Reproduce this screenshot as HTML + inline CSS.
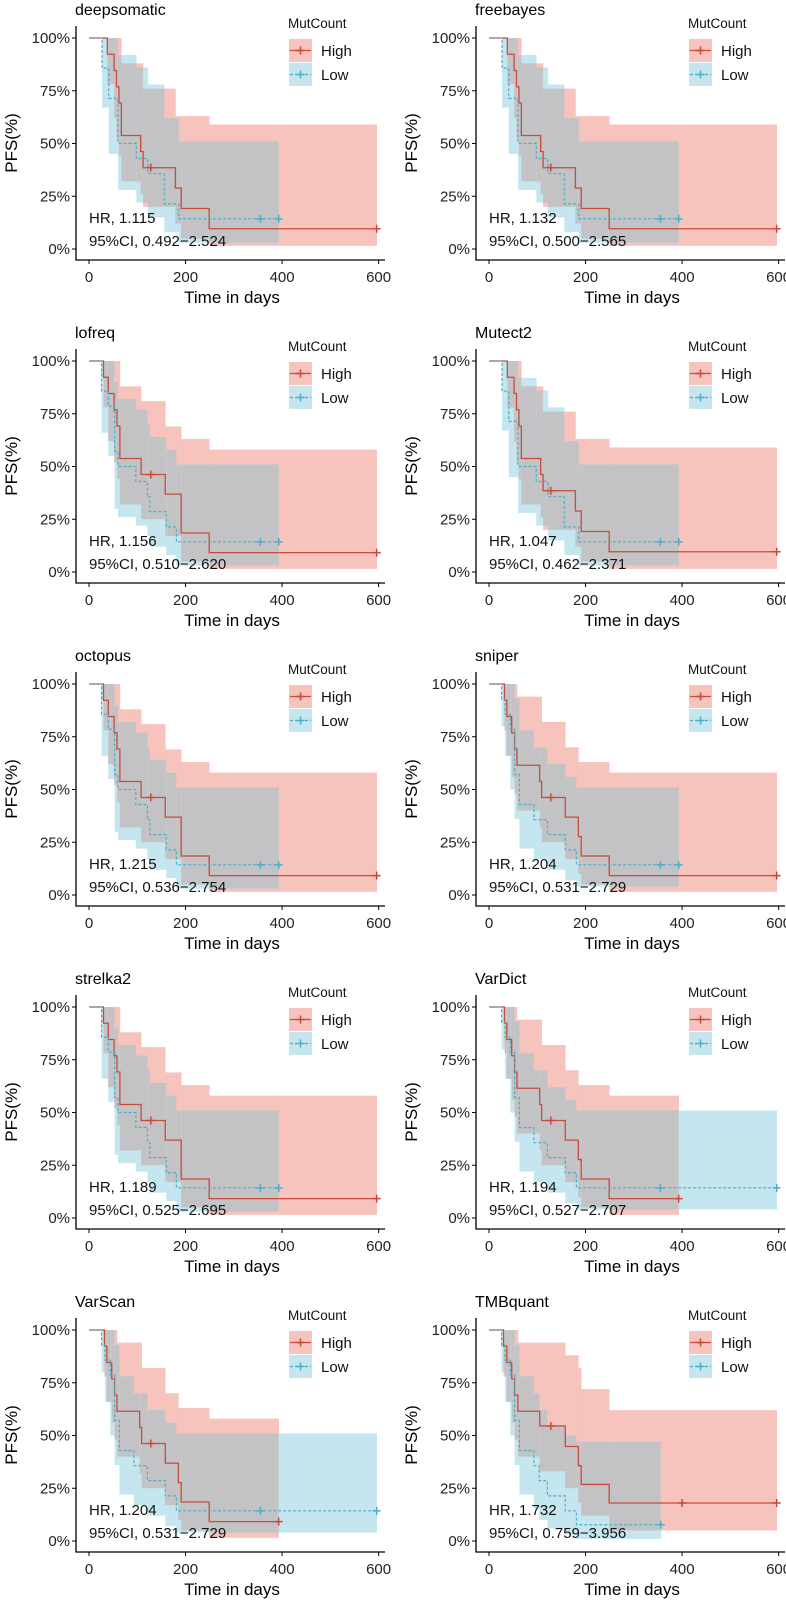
<!DOCTYPE html>
<html><head><meta charset="utf-8"><style>
html,body{margin:0;padding:0;background:#fff;}
svg{display:block;font-family:"Liberation Sans",Arial,sans-serif;}
</style></head><body>
<svg id="chart" width="786" height="1600" viewBox="0 0 786 1600" xmlns="http://www.w3.org/2000/svg"></svg>
<script>
// ---- data ----
const panelNames = ["deepsomatic","freebayes","lofreq","Mutect2","octopus","sniper","strelka2","VarDict","VarScan","TMBquant"];
const hrValues = ["1.115","1.132","1.156","1.047","1.215","1.204","1.189","1.194","1.204","1.732"];
const ciValues = ["0.492\u22122.524","0.500\u22122.565","0.510\u22122.620","0.462\u22122.371","0.536\u22122.754","0.531\u22122.729","0.525\u22122.695","0.527\u22122.707","0.531\u22122.729","0.759\u22123.956"];
const hiGroupOf = ["A","A","B","A","B","C","B","C","C","D"];
const loGroupOf = ["A","A","B","A","B","C","B","C","C","D"];
const hiEnds = [596,596,596,596,596,596,596,393,393,596];
const loEnds = [393,393,393,393,393,393,393,596,596,356];
const xTicks = [0,200,400,600];
const yTicks = [0,0.25,0.5,0.75,1];
const yTickLabels = ["0%","25%","50%","75%","100%"];

const hiT_A=[0,38,52,57,62,67,107,112,179,191,249];
const hiS_A=[1,.923,.846,.769,.692,.538,.462,.385,.289,.192,.096];
const hiU_A=[1,1,1,1,1,.88,.88,.76,.63,.63,.59];
const hiL_A=[1,.78,.62,.52,.44,.32,.26,.20,.12,.05,.015];
const hiC_A=[128];
const loT_A=[0,27,41,60,98,122,156,186];
const loS_A=[1,.857,.714,.5,.429,.357,.214,.143];
const loU_A=[1,1,1,.92,.86,.78,.62,.51];
const loL_A=[1,.67,.45,.28,.22,.15,.08,.03];
const loC_A=[355];

const hiT_B=[0,30,40,52,58,64,108,158,191,249];
const hiS_B=[1,.923,.846,.769,.692,.538,.462,.369,.185,.092];
const hiU_B=[1,1,1,1,1,.88,.81,.69,.63,.58];
const hiL_B=[1,.78,.62,.52,.44,.32,.25,.17,.05,.015];
const hiC_B=[128];
const loT_B=[0,26,40,53,60,97,121,126,160,181];
const loS_B=[1,.857,.786,.571,.5,.429,.357,.286,.214,.143];
const loU_B=[1,1,1,.9,.82,.77,.7,.64,.58,.51];
const loL_B=[1,.66,.55,.30,.26,.22,.17,.12,.08,.03];
const loC_B=[355];

const hiT_C=[0,32,37,47,53,58,105,109,158,185,191,249];
const hiS_C=[1,.923,.846,.769,.692,.615,.538,.462,.369,.277,.185,.092];
const hiU_C=[1,1,1,1,1,.94,.94,.82,.70,.63,.63,.58];
const hiL_C=[1,.78,.66,.56,.48,.40,.32,.25,.17,.10,.05,.015];
const hiC_C=[128];
const loT_C=[0,26,33,44,53,63,93,121,158,181];
const loS_C=[1,.929,.857,.786,.571,.429,.357,.286,.214,.143];
const loU_C=[1,1,1,1,.93,.78,.70,.62,.56,.51];
const loL_C=[1,.8,.66,.5,.36,.22,.17,.12,.07,.04];
const loC_C=[355];

const hiT_D=[0,30,37,47,53,60,105,158,185,191,249];
const hiS_D=[1,.923,.846,.769,.692,.615,.545,.448,.357,.268,.18];
const hiU_D=[1,1,1,1,1,.94,.94,.88,.82,.72,.62];
const hiL_D=[1,.78,.66,.56,.48,.40,.33,.25,.18,.12,.05];
const hiC_D=[128,400];
const loT_D=[0,26,33,44,53,63,93,104,121,158,181];
const loS_D=[1,.929,.857,.786,.571,.429,.357,.286,.214,.143,.077];
const loU_D=[1,1,1,1,.93,.78,.7,.62,.55,.5,.47];
const loL_D=[1,.8,.66,.5,.36,.22,.15,.1,.06,.03,.01];
const loC_D=[];

const groups = {
  A:{hiT:hiT_A,hiS:hiS_A,hiU:hiU_A,hiL:hiL_A,hiC:hiC_A,loT:loT_A,loS:loS_A,loU:loU_A,loL:loL_A,loC:loC_A},
  B:{hiT:hiT_B,hiS:hiS_B,hiU:hiU_B,hiL:hiL_B,hiC:hiC_B,loT:loT_B,loS:loS_B,loU:loU_B,loL:loL_B,loC:loC_B},
  C:{hiT:hiT_C,hiS:hiS_C,hiU:hiU_C,hiL:hiL_C,hiC:hiC_C,loT:loT_C,loS:loS_C,loU:loU_C,loL:loL_C,loC:loC_C},
  D:{hiT:hiT_D,hiS:hiS_D,hiU:hiU_D,hiL:hiL_D,hiC:hiC_D,loT:loT_D,loS:loS_D,loU:loU_D,loL:loL_D,loC:loC_D}
};

// ---- drawing ----
const NS="http://www.w3.org/2000/svg";
const svg=document.getElementById("chart");
const HI="#C94A3A", LO="#4BADC8";
const PINK="#F6C3BD", BLUE="#C6E6EF", GRAY="#C3C3C5";
const K=0.4827, H=211;
function mk(tag,attrs,parent){const e=document.createElementNS(NS,tag);for(const k in attrs)e.setAttribute(k,attrs[k]);(parent||svg).appendChild(e);return e;}
function stepVal(T,A,t){let i=0;for(let j=0;j<T.length;j++){if(T[j]<=t)i=j;}return A[i];}

panelNames.forEach((name,p)=>{
  const col=p%2,row=Math.floor(p/2);
  const x0=col?489:89, top=38+323*row;
  const sx=t=>x0+t*K, sy=v=>top+(1-v)*H;
  const hg=groups[hiGroupOf[p]], lg=groups[loGroupOf[p]];
  const hiT=hg.hiT,hiS=hg.hiS,hiU=hg.hiU,hiL=hg.hiL,loT=lg.loT,loS=lg.loS,loU=lg.loU,loL=lg.loL;
  const hEnd=hiEnds[p], lEnd=loEnds[p];
  const g=mk("g",{});
  
  

  const bp=[...new Set([...hiT,...loT,hEnd,lEnd])].sort((a,b)=>a-b);
  const bands=mk("g",{},g);
  
  
  for(let i=0;i<bp.length-1;i++){
    const a=bp[i],b=bp[i+1];
    const hOn=a<hEnd, lOn=a<lEnd;
    if(hOn){const u=stepVal(hiT,hiU,a),l=stepVal(hiT,hiL,a);
      const r=mk("rect",{x:sx(a),y:sy(u),width:sx(b)-sx(a)+0.3,height:sy(l)-sy(u),fill:PINK},bands);
      }
    if(lOn){const u=stepVal(loT,loU,a),l=stepVal(loT,loL,a);
      const r=mk("rect",{x:sx(a),y:sy(u),width:sx(b)-sx(a)+0.3,height:sy(l)-sy(u),fill:BLUE},bands);
      }
    if(hOn&&lOn){const u=Math.min(stepVal(hiT,hiU,a),stepVal(loT,loU,a)),l=Math.max(stepVal(hiT,hiL,a),stepVal(loT,loL,a));
      if(u>l){const r=mk("rect",{x:sx(a),y:sy(u),width:sx(b)-sx(a)+0.3,height:sy(l)-sy(u),fill:GRAY},bands);
      }}
  }
  function stepPath(T,S,end){let d="M"+sx(0)+","+sy(S[0]);for(let i=1;i<T.length;i++){d+=" H"+sx(T[i])+" V"+sy(S[i]);}d+=" H"+sx(end);return d;}
  const hl=mk("path",{d:stepPath(hiT,hiS,hEnd),fill:"none",stroke:HI,"stroke-width":1.3},g);
  
  const ll=mk("path",{d:stepPath(loT,loS,lEnd),fill:"none",stroke:LO,"stroke-width":1.2,"stroke-dasharray":"3,2"},g);
  
  function cross(t,v,c,nm){const x=sx(t),y=sy(v);const c1=mk("path",{d:`M${x-4},${y} H${x+4} M${x},${y-4} V${y+4}`,stroke:c,"stroke-width":1.5},g);
    }
  hg.hiC.forEach(t=>cross(t,stepVal(hiT,hiS,t),HI,'high-censor-mark'));
  cross(hEnd,hiS[hiS.length-1],HI,'high-censor-mark');
  lg.loC.forEach(t=>{if(t<lEnd)cross(t,stepVal(loT,loS,t),LO,'low-censor-mark');});
  cross(lEnd,loS[loS.length-1],LO,'low-censor-mark');

  const ax=mk("path",{d:`M${x0-13},${top-12} V${top+222} H${x0+296}`,fill:"none",stroke:"#000","stroke-width":1.3},g);
  
  yTicks.forEach((v,i)=>{
    mk("line",{x1:x0-17,x2:x0-13,y1:sy(v),y2:sy(v),stroke:"#000"},g);
    const t=mk("text",{x:x0-19,y:sy(v)+5,"text-anchor":"end","font-size":15,fill:"#222"},g);
    t.textContent=yTickLabels[i];
  });
  xTicks.forEach(v=>{
    const tk=mk("line",{x1:sx(v),x2:sx(v),y1:top+222,y2:top+226,stroke:"#000"},g);
    const t=mk("text",{x:sx(v),y:top+244,"text-anchor":"middle","font-size":15,fill:"#222"},g);
    t.textContent=v;
  });
  const xt=mk("text",{x:x0+143,y:top+265,"text-anchor":"middle","font-size":17,fill:"#000"},g);
  xt.textContent="Time in days";
  const yt=mk("text",{x:0,y:0,"text-anchor":"middle","font-size":17,fill:"#000",transform:`translate(${x0-72},${top+105}) rotate(-90)`},g);
  yt.textContent="PFS(%)";
  const ti=mk("text",{x:x0-14,y:top-23,"font-size":16,fill:"#000"},g);
  ti.textContent=name;
  const hr=mk("text",{x:x0,y:top+185,"font-size":15,fill:"#111"},g);
  hr.textContent="HR, "+hrValues[p];
  const ci=mk("text",{x:x0,y:top+208,"font-size":15,fill:"#111"},g);
  ci.textContent="95%CI, "+ciValues[p];

  const lgd=mk("g",{},g);
  
  const lt=mk("text",{x:x0+199,y:top-10,"font-size":13.5,fill:"#111"},lgd);
  lt.textContent="MutCount";
  [[PINK,HI,"High",top+1,false],[BLUE,LO,"Low",top+25,true]].forEach(([f,c,lab,y,dash])=>{
    const e=mk("g",{},lgd);
    
    mk("rect",{x:x0+200,y:y,width:23,height:23,fill:f},e);
    mk("line",{x1:x0+201,x2:x0+222,y1:y+11.5,y2:y+11.5,stroke:c,"stroke-width":1.3,"stroke-dasharray":dash?"3,2":"none"},e);
    mk("path",{d:`M${x0+207.5},${y+11.5} H${x0+215.5} M${x0+211.5},${y+7.5} V${y+15.5}`,stroke:c,"stroke-width":1.5},e);
    const tx=mk("text",{x:x0+232,y:y+17,"font-size":15,fill:"#111"},e);tx.textContent=lab;
  });
});
</script>
</body></html>
